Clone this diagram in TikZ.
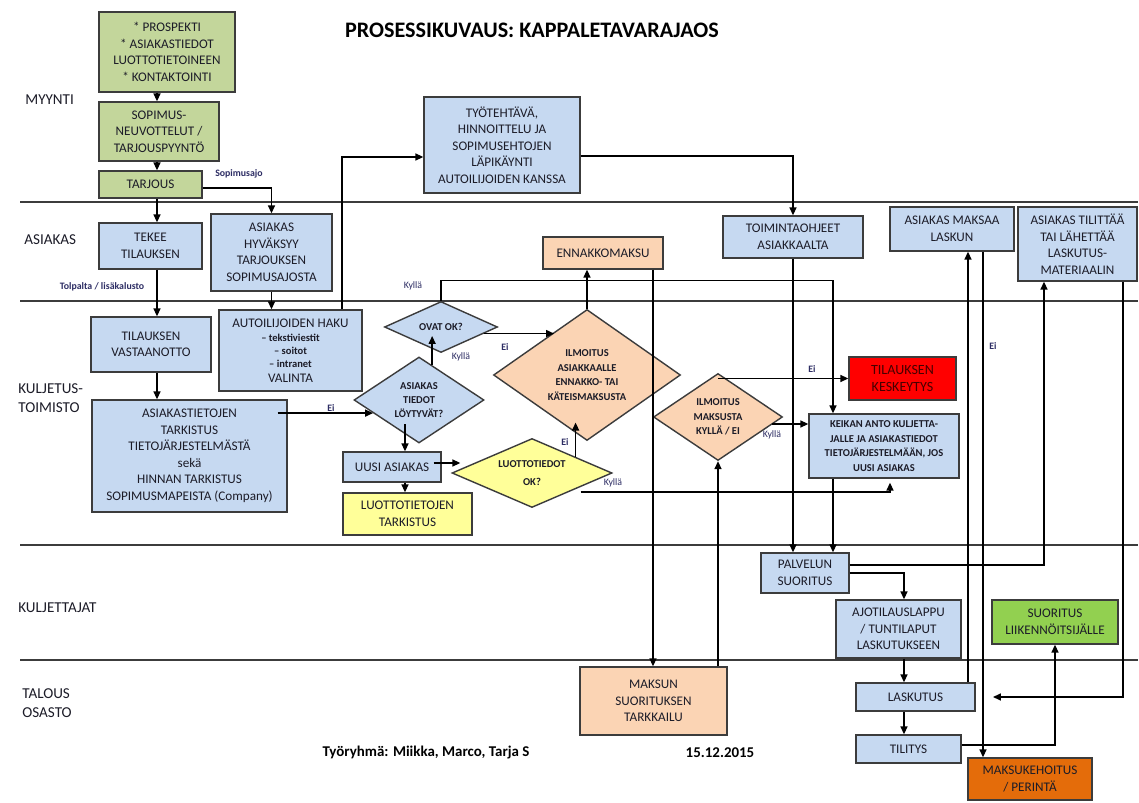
\documentclass[tikz,border=0pt]{standalone}
\usepackage{fontspec}
\setmainfont{Carlito}
\usetikzlibrary{shapes.geometric,arrows.meta,calc}
\definecolor{lblue}{RGB}{198,217,241}
\definecolor{lgreen}{RGB}{195,214,155}
\definecolor{peach}{RGB}{251,212,180}
\definecolor{lyell}{RGB}{255,255,153}
\definecolor{kgreen}{RGB}{146,208,80}
\definecolor{dorange}{RGB}{228,108,10}
\definecolor{edge}{RGB}{60,60,60}
\definecolor{ink}{RGB}{28,28,40}
\definecolor{navy}{RGB}{45,45,100}
\definecolor{dred}{RGB}{70,0,0}
\newcommand{\fn}{\fontsize{7.5}{9.4}\selectfont}
\newcommand{\fd}{\fontsize{6}{8.2}\selectfont\bfseries}
\newcommand{\fl}{\fontsize{5.6}{7}\selectfont}

\begin{document}
\begin{tikzpicture}[x=0.02cm, y=-0.02cm,
  box/.style={draw=edge, line width=0.8pt, align=center, inner sep=1pt, text=ink, font=\fn},
  sz/.style 2 args={minimum width=#1*0.02cm, minimum height=#2*0.02cm},
  bbox/.style={box, fill=lblue}, gbox/.style={box, fill=lgreen},
  obox/.style={box, fill=peach}, ybox/.style={box, fill=lyell},
  dia/.style={diamond, draw=edge, line width=0.8pt, align=center, inner sep=0pt, text=ink, font=\fd},
  arr/.style={-{Triangle[length=4.5pt,width=4pt]}, line width=0.75pt},
  lane/.style={line width=0.8pt, edge},
  lbl/.style={font=\fl\bfseries, text=navy, inner sep=0pt},
  kyl/.style={font=\fl, text=navy, inner sep=0pt},
  lanelbl/.style={font=\fontsize{8.6}{10}\selectfont, anchor=west, align=left, text=ink, inner sep=0pt}]

\fill[white] (0,0) rectangle (1139,803);
\useasboundingbox (0,0) rectangle (1139,803);

% lanes
\foreach \y in {202,301,545,660}
  \draw[lane] (20,\y) -- (1138,\y);
\node[lanelbl] (lmyy) at (25,100) {MYYNTI};
\node[lanelbl] (lasi) at (24,240) {ASIAKAS};
\node[lanelbl] (lkul) at (18,398) {KULJETUS-\\[1pt]TOIMISTO};
\node[lanelbl] (lkuj) at (18,608) {KULJETTAJAT};
\node[lanelbl] (ltal) at (22,703) {TALOUS\\[1pt]OSASTO};

\node[font=\fontsize{12.6}{14}\selectfont\bfseries] (title) at (532,30) {PROSESSIKUVAUS: KAPPALETAVARAJAOS};

% myynti
\node[gbox, sz={136}{80}] (prosp) at (167,52) {* PROSPEKTI\\* ASIAKASTIEDOT\\LUOTTOTIETOINEEN\\* KONTAKTOINTI};
\node[gbox, sz={120}{59}] (sopim) at (159,131.5) {SOPIMUS-\\NEUVOTTELUT /\\TARJOUSPYYNTÖ};
\node[gbox, sz={103}{27}] (tarj) at (150.5,184.5) {TARJOUS};
\node[bbox, sz={156}{96}] (tyo) at (502,145) {TYÖTEHTÄVÄ,\\HINNOITTELU JA\\SOPIMUSEHTOJEN\\LÄPIKÄYNTI\\AUTOILIJOIDEN KANSSA};

% asiakas
\node[bbox, sz={103}{46}] (tekee) at (150.5,246) {TEKEE\\TILAUKSEN};
\node[bbox, sz={121}{77}] (hyvak) at (271.5,252.5) {ASIAKAS\\HYVÄKSYY\\TARJOUKSEN\\SOPIMUSAJOSTA};
\node[obox, sz={120}{32}] (ennak) at (603,253) {ENNAKKOMAKSU};
\node[bbox, sz={140}{42}] (toim) at (793,237) {TOIMINTAOHJEET\\ASIAKKAALTA};
\node[bbox, sz={124}{44}] (maksaa) at (952,229) {ASIAKAS MAKSAA\\LASKUN};
\node[bbox, sz={119}{74}] (tilit) at (1077.5,244) {ASIAKAS TILITTÄÄ\\TAI LÄHETTÄÄ\\LASKUTUS-\\MATERIAALIN};

% kuljetustoimisto
\node[bbox, sz={120}{55}] (vast) at (151,344.5) {TILAUKSEN\\VASTAANOTTO};
\node[bbox, sz={143}{81}] (hakuu) at (290.5,350.5) {AUTOILIJOIDEN HAKU\\[-1.5pt]{\fd -- tekstiviestit}\\[-1.8pt]{\fd -- soitot}\\[-1.8pt]{\fd -- intranet}\\[-1.2pt]VALINTA};
\node[bbox, sz={195}{112}] (astie) at (189.5,456) {ASIAKASTIETOJEN\\TARKISTUS\\TIETOJÄRJESTELMÄSTÄ\\sekä\\HINNAN TARKISTUS\\SOPIMUSMAPEISTA (Company)};
\node[dia, fill=lblue, sz={113}{51}, aspect=2.2] (ovat) at (441,327) {OVAT OK?};
\node[dia, fill=lblue, sz={130}{86}, aspect=1.5] (atied) at (419,400) {ASIAKAS\\TIEDOT\\LÖYTYVÄT?};
\node[dia, fill=peach, sz={187}{131}, aspect=1.43] (ilmas) at (587,375) {ILMOITUS\\ASIAKKAALLE\\ENNAKKO- TAI\\KÄTEISMAKSUSTA};
\node[bbox, sz={98}{30}] (uusi) at (392,467) {UUSI ASIAKAS};
\node[ybox, sz={129}{42}] (ltark) at (407.5,514) {LUOTTOTIETOJEN\\TARKISTUS};
\node[dia, fill=lyell, sz={160}{69}, aspect=2.3] (lok) at (532,473) {LUOTTOTIEDOT\\[2pt]OK?};
\node[dia, fill=peach, sz={129}{87}, aspect=1.5] (imaks) at (718,417) {ILMOITUS\\MAKSUSTA\\KYLLÄ / EI};
\node[box, fill=red, sz={107}{43}, text=dred, font=\fontsize{8}{10}\selectfont] (keskey) at (902.5,378.5) {TILAUKSEN\\KESKEYTYS};
\node[bbox, sz={150}{64}, font=\fd] (keikka) at (884,446) {KEIKAN ANTO KULJETTA-\\JALLE JA ASIAKASTIEDOT\\TIETOJÄRJESTELMÄÄN, JOS\\UUSI ASIAKAS};

% kuljettajat
\node[bbox, sz={88}{40}] (palv) at (805,573) {PALVELUN\\SUORITUS};
\node[bbox, sz={125}{58}] (ajot) at (898.5,629) {AJOTILAUSLAPPU\\/ TUNTILAPUT\\LASKUTUKSEEN};
\node[box, fill=kgreen, sz={126}{44}] (liik) at (1055,622) {SUORITUS\\LIIKENNÖITSIJÄLLE};

% talous osasto
\node[obox, sz={147}{68}] (tarkk) at (653.5,701) {MAKSUN\\SUORITUKSEN\\TARKKAILU};
\node[bbox, sz={119}{28}] (lasku) at (915.5,697) {LASKUTUS};
\node[bbox, sz={105}{28}] (tilitys) at (908.5,749) {TILITYS};
\node[box, fill=dorange, sz={124}{42}] (perin) at (1030,779) {MAKSUKEHOITUS\\/ PERINTÄ};

\node[font=\fontsize{8.5}{10}\selectfont\bfseries] (ryhma) at (426,753) {Työryhmä: Miikka, Marco, Tarja S};
\node[font=\fontsize{8.5}{10}\selectfont\bfseries] (pvm) at (720,753) {15.12.2015};

% vertical runs
\coordinate (xa) at (157,0);
\coordinate (xb) at (342,0);
\coordinate (xc) at (833,0);
\coordinate (xd) at (405,0);
\coordinate (xe) at (904,0);
\coordinate (xf) at (1044,0);
\coordinate (xg) at (968,0);
\coordinate (xh) at (983,0);
\coordinate (xi) at (1123,0);
\coordinate (xj) at (653,0);
\coordinate (lend) at (993,697);

% connectors
\draw[arr] (prosp.south -| xa) -- (sopim.north -| xa);
\draw[arr] (sopim.south -| xa) -- (tarj.north -| xa);
\draw[arr] (tarj.south -| xa) -- (tekee.north -| xa);
\draw[arr] (tekee.south -| xa) -- (vast.north -| xa);
\draw[arr] (vast.south -| xa) -- (astie.north -| xa);
\draw[arr] ($(tarj.east)+(0,3.5)$) -| (hyvak.north);
\draw[arr] (hyvak.south) -- (hyvak.south |- hakuu.north);
\draw[arr] (hakuu.north -| xb) |- ($(tyo.west)+(0,12)$);
\draw[arr] ($(tyo.east)+(0,11)$) -| (toim.north);

\coordinate (ei1) at ($(atied.west)!0.3!(atied.south)$);
\draw[arr] ($(ei1 -| astie.east)+(-10,0)$) -- (ei1);
\coordinate (ky1) at ($(atied.north)!0.2!(atied.east)$);
\draw[arr] (ky1) -- ($(ky1 |- ovat.center)+(0,9)$);
\draw[arr] (ovat.north) -- ++(0,-20) -| (keikka.north -| xc);
\coordinate (ei2) at ($(ovat.east)!0.25!(ovat.south)$);
\coordinate (ei2b) at ($(ilmas.north)!0.35!(ilmas.west)$);
\draw[arr] (ei2) -- (ei2 -| ei2b);
\draw[arr] (ilmas.north) -- (ilmas.north |- ennak.south);
\draw[arr] (ennak.south -| xj) -- (tarkk.north -| xj);

\coordinate (uu) at ($(atied.south)!0.22!(atied.west)$);
\draw[arr] ($(uu -| xd)+(0,-10)$) -- (uusi.north -| xd);
\draw[arr] (uusi.south -| xd) -- (ltark.north -| xd);
\draw[arr] ($(uusi.east)+(-8,-4)$) -- ($(lok.west)+(9,-10)$);
\coordinate (ei3) at ($(ilmas.south)!0.13!(ilmas.west)$);
\coordinate (ei3s) at ($(lok.north)!0.54!(lok.east)$);
\draw[arr] (ei3s) -- ($(ei3s |- ei3)+(0,-10)$);
\draw[arr] ($(lok.east)+(-32,19)$) -| ($(keikka.south)+(6,4)$);

\draw[arr] (imaks.south |- tarkk.north) -- (imaks.south);
\draw[arr] (imaks.north |- keskey.west) -- (keskey.west);
\coordinate (ky4) at ($(imaks.east)+(-11,7)$);
\draw[arr] (ky4) -- (ky4 -| keikka.west);

\draw[arr] (toim.south) -- (toim.south |- palv.north);
\draw[arr] (keikka.south -| xc) -- (palv.north -| xc);
\draw[arr] ($(palv.east)+(0,-8)$) -| (tilit.south -| xf);
\draw[arr] (palv.east) -| (ajot.north -| xe);
\draw[arr] (ajot.south -| xe) -- (lasku.north -| xe);
\draw[arr] (lasku.south -| xe) -- (tilitys.north -| xe);
\draw[arr] (lasku.north -| xg) -- (maksaa.south -| xg);
\draw[arr] (maksaa.south -| xh) -- (perin.north -| xh);
\draw[arr] (tilit.south -| xi) |- (lend);
\draw[arr] ($(tilitys.east)+(0,-4)$) -| (liik.south);

% labels
\node[lbl] (lsop) at (239,174) {Sopimusajo};
\node[lbl] (ltol) at (102,287) {Tolpalta / lisäkalusto};
\node[lbl] (lei1) at (331,408) {Ei};
\node[kyl] (lky1) at (461,357) {Kyllä};
\node[kyl] (lky2) at (413,286) {Kyllä};
\node[lbl] (lei2) at (505,347) {Ei};
\node[lbl] (lei3) at (565,442) {Ei};
\node[kyl] (lky3) at (613,483) {Kyllä};
\node[lbl] (lei4) at (812,369) {Ei};
\node[kyl] (lky4) at (772,435) {Kyllä};
\node[lbl] (lei5) at (993,346) {Ei};

\end{tikzpicture}
\end{document}
